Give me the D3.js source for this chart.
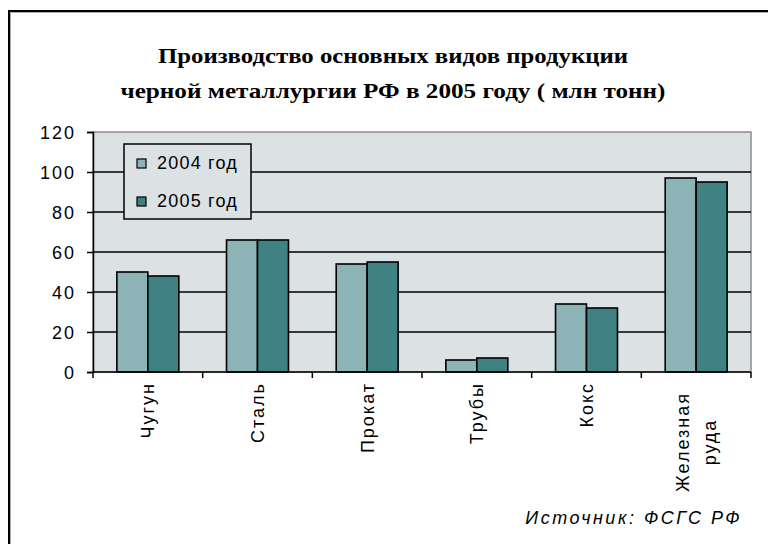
<!DOCTYPE html>
<html>
<head>
<meta charset="utf-8">
<script src="https://cdn.jsdelivr.net/npm/d3@7"></script>
<style>
  html, body { margin: 0; padding: 0; background: #fff; }
  svg { display: block; }
  .tick-label { font-family: "Liberation Sans", Arial, sans-serif; font-size: 18px; letter-spacing: 2px; fill: #000; }
</style>
</head>
<body>
<div id="chart"></div>
<script>
// chart data
const categories = ['Чугун', 'Сталь', 'Прокат', 'Трубы', 'Кокс', 'Железная руда'];
const seriesNames = ['2004 год', '2005 год'];
const values2004 = [50, 66, 54, 6, 34, 97];
const values2005 = [48, 66, 55, 7, 32, 95];
const yTicks = [0, 20, 40, 60, 80, 100, 120];
const titleLines = ['Производство основных видов продукции', 'черной металлургии РФ в 2005 году ( млн тонн)'];
const sourceText = 'Источник: ФСГС РФ';

!(function () {

  var width = 768, height = 544,
      plot = { left: 93, right: 751, top: 132, bottom: 372 },
      colors = ['#8cb3b6', '#408184'];

  var svg = d3.select('#chart').append('svg')
    .attr('width', width)
    .attr('height', height);

  // outer frame (only top and left edges are in view)
  svg.append('path')
    .attr('d', 'M9,' + height + 'V11H' + width)
    .attr('fill', 'none')
    .attr('stroke', '#000')
    .attr('stroke-width', 2);
  svg.append('path')
    .attr('d', 'M10.5,' + height + 'V12.5H' + width)
    .attr('fill', 'none')
    .attr('stroke', '#aaa')
    .attr('stroke-width', 1);

  // title
  var titleWidths = [470, 545];
  svg.append('g').selectAll('text')
    .data(titleLines)
    .enter().append('text')
    .attr('x', 393)
    .attr('y', function (d, i) { return 63 + i * 35; })
    .attr('text-anchor', 'middle')
    .attr('font-family', '"Liberation Serif", "Times New Roman", serif')
    .attr('font-weight', 'bold')
    .attr('font-size', 21)
    .attr('textLength', function (d, i) { return titleWidths[i]; })
    .attr('lengthAdjust', 'spacingAndGlyphs')
    .text(function (d) { return d; });

  // scales
  var x0 = d3.scaleBand()
    .domain(categories)
    .range([plot.left, plot.right])
    .padding(0);

  var x1 = d3.scaleBand()
    .domain(seriesNames)
    .range([0, x0.bandwidth()])
    .paddingInner(0)
    .paddingOuter(0.77);

  var y = d3.scaleLinear()
    .domain([0, 120])
    .range([plot.bottom, plot.top]);

  // plot background
  svg.append('rect')
    .attr('x', plot.left)
    .attr('y', plot.top)
    .attr('width', plot.right - plot.left)
    .attr('height', plot.bottom - plot.top)
    .attr('fill', '#dce2e4')
    .attr('stroke', '#8c8c8c')
    .attr('stroke-width', 1.5);

  // gridlines
  svg.append('g').selectAll('line')
    .data(yTicks.filter(function (t) { return t > 0 && t < 120; }))
    .enter().append('line')
    .attr('x1', plot.left)
    .attr('x2', plot.right)
    .attr('y1', function (d) { return y(d); })
    .attr('y2', function (d) { return y(d); })
    .attr('stroke', '#000')
    .attr('stroke-width', 1.5);

  // bars
  var rows = categories.map(function (c, i) {
    return { cat: c, vals: [values2004[i], values2005[i]] };
  });

  svg.append('g').selectAll('g')
    .data(rows)
    .enter().append('g')
    .attr('transform', function (d) { return 'translate(' + x0(d.cat) + ',0)'; })
    .selectAll('rect')
    .data(function (d) {
      return d.vals.map(function (v, i) { return { key: seriesNames[i], value: v, idx: i }; });
    })
    .enter().append('rect')
    .attr('x', function (d) { return x1(d.key); })
    .attr('y', function (d) { return y(d.value); })
    .attr('width', x1.bandwidth())
    .attr('height', function (d) { return y(0) - y(d.value); })
    .attr('fill', function (d) { return colors[d.idx]; })
    .attr('stroke', '#000')
    .attr('stroke-width', 1.6);

  // y axis
  var yAxis = svg.append('g')
    .attr('transform', 'translate(' + plot.left + ',0)')
    .call(d3.axisLeft(y).tickValues(yTicks).tickSize(6).tickPadding(11));
  yAxis.select('.domain').attr('stroke', '#000').attr('stroke-width', 1.5);
  yAxis.selectAll('.tick line').attr('stroke', '#000').attr('stroke-width', 1.5);
  yAxis.selectAll('.tick text')
    .attr('class', 'tick-label')
    .attr('font-family', null)
    .attr('font-size', null)
    .attr('dy', '0.36em');

  // x axis
  var xAxis = svg.append('g')
    .attr('transform', 'translate(0,' + plot.bottom + ')');
  xAxis.append('line')
    .attr('x1', plot.left)
    .attr('x2', plot.right)
    .attr('stroke', '#000')
    .attr('stroke-width', 1.5);
  xAxis.selectAll('.xtick')
    .data(categories.concat(['end']))
    .enter().append('line')
    .attr('class', 'xtick')
    .attr('x1', function (d) { return d === 'end' ? plot.right : x0(d); })
    .attr('x2', function (d) { return d === 'end' ? plot.right : x0(d); })
    .attr('y1', 0)
    .attr('y2', 6)
    .attr('stroke', '#000')
    .attr('stroke-width', 1.5);

  // category labels, rotated; multi-word labels wrap onto two centred lines
  var lineGap = 27;
  xAxis.selectAll('.xlabel')
    .data(categories)
    .enter().append('g')
    .attr('class', 'xlabel')
    .each(function (d) {
      var words = d.split(' '),
          cx = x0(d) + x0.bandwidth() / 2,
          g = d3.select(this);
      words.forEach(function (w, i) {
        var off = (i - (words.length - 1) / 2) * lineGap;
        var t = g.append('text')
          .attr('class', 'tick-label')
          .attr('transform', 'translate(' + (cx + off) + ',' + 10 + ') rotate(-90)')
          .attr('dy', '0.36em')
          .text(w);
        if (words.length > 1) {
          t.attr('text-anchor', 'middle').attr('x', -60);
        } else {
          t.attr('text-anchor', 'end');
        }
      });
    });

  // legend
  var legend = svg.append('g').attr('transform', 'translate(124,144)');
  legend.append('rect')
    .attr('width', 127)
    .attr('height', 75)
    .attr('fill', '#dce2e4')
    .attr('stroke', '#000')
    .attr('stroke-width', 1.5);
  var items = legend.selectAll('.item')
    .data(seriesNames)
    .enter().append('g')
    .attr('class', 'item')
    .attr('transform', function (d, i) { return 'translate(13,' + (15 + i * 38) + ')'; });
  items.append('rect')
    .attr('width', 9)
    .attr('height', 9)
    .attr('fill', function (d, i) { return colors[i]; })
    .attr('stroke', '#000')
    .attr('stroke-width', 1.2);
  items.append('text')
    .attr('class', 'tick-label')
    .attr('x', 20)
    .attr('y', 10)
    .attr('letter-spacing', 1.2)
    .style('letter-spacing', '1.2px')
    .text(function (d) { return d; });

  // source note
  svg.append('text')
    .attr('x', 742)
    .attr('y', 524)
    .attr('text-anchor', 'end')
    .attr('class', 'tick-label')
    .attr('font-style', 'italic')
    .style('letter-spacing', '2.5px')
    .text(sourceText);

})();
</script>
</body>
</html>
